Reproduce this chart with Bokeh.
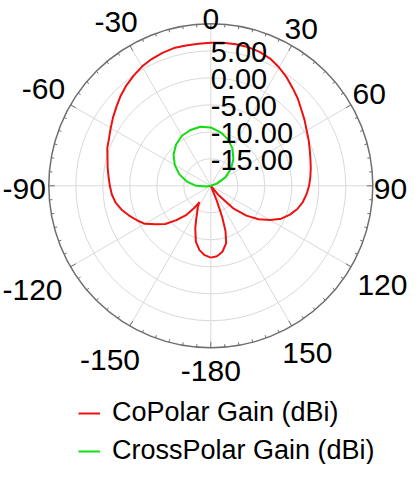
import numpy as np
from bokeh.plotting import figure
from bokeh.models import Range1d, Legend, LegendItem
from bokeh.core.properties import value
from bokeh.embed import file_html
from bokeh.resources import INLINE

# ---------------- data ----------------
copolar_angle = [-180, -175, -170, -165, -160, -156, -152, -148, -145.5, -143, -140, -135, -130,
                 -125, -120, -115, -110, -105, -100, -95, -90, -85, -80, -75, -70, -65, -60,
                 -55, -50, -45, -40, -35, -30, -25, -20, -15, -10, -5, 0, 5, 10, 15, 20, 25,
                 30, 35, 40, 45, 50, 55, 60, 65, 70, 75, 80, 85, 90, 95, 100, 105, 110, 115,
                 120, 125, 130, 135, 140, 143, 148, 153, 156, 158, 160, 162, 165, 170, 175, 180]
copolar_gain = [-6.7, -7.1, -7.9, -9.3, -11.6, -13.4, -14.7, -15.5, -16.3, -14.8, -13.0, -11.0, -9.0,
                -7.6, -5.9, -4.9, -3.9, -2.9, -2.1, -1.6, -1.3, -1.0, -0.6, -0.2, 0.4, 0.8, 1.4,
                2.1, 2.8, 3.6, 4.3, 4.9, 5.5, 5.9, 6.2, 6.4, 6.4, 6.4, 6.5, 6.6, 6.6, 6.6, 6.4, 6.0,
                5.3, 4.5, 3.6, 2.8, 1.9, 1.2, 0.5, 0.0, -0.5, -0.9, -1.2, -1.5, -1.8, -2.2, -2.7, -3.4, -4.4, -5.6,
                -7.3, -9.2, -11.4, -14.0, -17.8, -20.5, -24.0, -22.0, -20.5, -17.0, -13.8, -11.2, -9.0, -7.6, -6.9, -6.7]

crosspolar_angle = [-180, -170, -160, -150, -140, -130, -120, -110, -100, -90, -80, -70, -60, -50,
                    -40, -30, -20, -10, 0, 10, 20, 30, 40, 50, 60, 70, 80, 90, 100, 110, 120,
                    130, 140, 150, 160, 170, 180]
crosspolar_gain = [-30.0, -30.0, -30.0, -29.0, -27.5, -25.5, -23.5, -21.5, -19.2, -17.3, -15.5, -13.8, -12.3, -11.0,
                   -10.0, -9.3, -9.0, -8.9, -9.2, -9.9, -10.8, -12.0, -13.5, -15.1, -16.9, -18.8, -20.7, -22.5, -24.5,
                   -26.5, -28.0, -29.5, -30.0, -30.0, -30.0, -30.0, -30.0]

ring_values = [-15, -10, -5, 0, 5, 10]
ring_labels = ["-15.00", "-10.00", "-5.00", "0.00", "5.00"]
angle_ticks = [0, 30, 60, 90, 120, 150, 180, -150, -120, -90, -60, -30]
angle_tick_labels = ["0", "30", "60", "90", "120", "150", "-180", "-150", "-120", "-90", "-60", "-30"]
r_min, r_max = -20, 10

# ---------------- layout ----------------
W, H = 410, 464
PX = 5.4                      # pixels per dB
cx_px, cy_px = 210.3, 185.3   # polar centre in figure pixels
FONT = "Liberation Sans"

p = figure(width=W, height=H, output_backend="svg", toolbar_location=None,
           x_range=Range1d(-cx_px / PX, (W - cx_px) / PX),
           y_range=Range1d(-(H - cy_px) / PX, cy_px / PX),
           min_border=0, outline_line_color=None)
p.axis.visible = False
p.grid.visible = False
p.background_fill_color = "white"
p.border_fill_color = "white"


def polar_xy(theta_deg, gain):
    th = np.radians(np.asarray(theta_deg, dtype=float))
    rho = np.clip(np.asarray(gain, dtype=float) - r_min, 0, None)
    return rho * np.sin(th), rho * np.cos(th)


R_out = r_max - r_min
# grid rings
rings = [v - r_min for v in ring_values[:-1]]
p.circle(x=[0] * len(rings), y=[0] * len(rings), radius=rings,
         fill_color=None, line_color="#d9d9d9", line_width=1)
# radial spokes
sp = np.radians(np.arange(0, 360, 30))
p.segment(x0=0, y0=0, x1=R_out * np.sin(sp), y1=R_out * np.cos(sp),
          line_color="#d9d9d9", line_width=1)
# outer circle + ticks
p.circle(x=[0], y=[0], radius=[R_out], fill_color=None, line_color="#6e6e6e", line_width=1.5)
tk = np.arange(0, 360, 5)
tlen = np.where(tk % 30 == 0, 6.0, 3.0) / PX
tr = np.radians(tk)
p.segment(x0=R_out * np.sin(tr), y0=R_out * np.cos(tr),
          x1=(R_out - tlen) * np.sin(tr), y1=(R_out - tlen) * np.cos(tr),
          line_color="#6e6e6e", line_width=1)

# data curves
xr, yr = polar_xy(copolar_angle, copolar_gain)
red = p.line(xr, yr, line_color="#ee1111", line_width=2)
xg, yg = polar_xy(crosspolar_angle, crosspolar_gain)
green = p.line(xg, yg, line_color="#11dd11", line_width=2)

# radial labels
p.text(x=[0] * len(ring_labels), y=[v - r_min - 0.3 for v in ring_values[:-1]], text=ring_labels,
       text_font=value(FONT), text_font_size="29px", text_align="left", text_baseline="alphabetic",
       text_color="black")

# angle labels (kept inside the figure)
fs = 30.0
half_h = 18.0
def text_w(s):
    return sum(0.333 if c == "-" else 0.556 for c in s) * fs

lx, ly = [], []
for a, s in zip(angle_ticks, angle_tick_labels):
    t = np.radians(a)
    st, ct = np.sin(t), np.cos(t)
    w = text_w(s)
    rpx = 166 + w / 2 * abs(st) + 11 * abs(ct) + (8 if ct < -0.01 else 0)
    rpx += 3 if st < -0.01 else (-3 if st > 0.01 else 0)
    xx = rpx * st
    yy = rpx * ct - (3 if abs(ct) < 0.01 else 0)
    xx = min(max(xx, -cx_px + w / 2 + 2), W - cx_px - w / 2 - 2)
    yy = min(yy, cy_px - half_h)
    lx.append(xx / PX)
    ly.append(yy / PX)
p.text(x=lx, y=ly, text=angle_tick_labels, text_font=value(FONT), text_font_size="30px",
       text_align="center", text_baseline="middle", text_color="black")

legend = Legend(items=[LegendItem(label="CoPolar Gain (dBi)", renderers=[red]),
                       LegendItem(label="CrossPolar Gain (dBi)", renderers=[green])],
                location=(78, -2), orientation="vertical",
                label_text_font=FONT, label_text_font_size="27px", label_text_color="black",
                glyph_width=22, glyph_height=26, label_height=26, label_standoff=12,
                spacing=7, padding=0, margin=0,
                border_line_alpha=0, background_fill_alpha=0)
p.add_layout(legend, "center")

open("out.html", "w").write(file_html(p, INLINE))
